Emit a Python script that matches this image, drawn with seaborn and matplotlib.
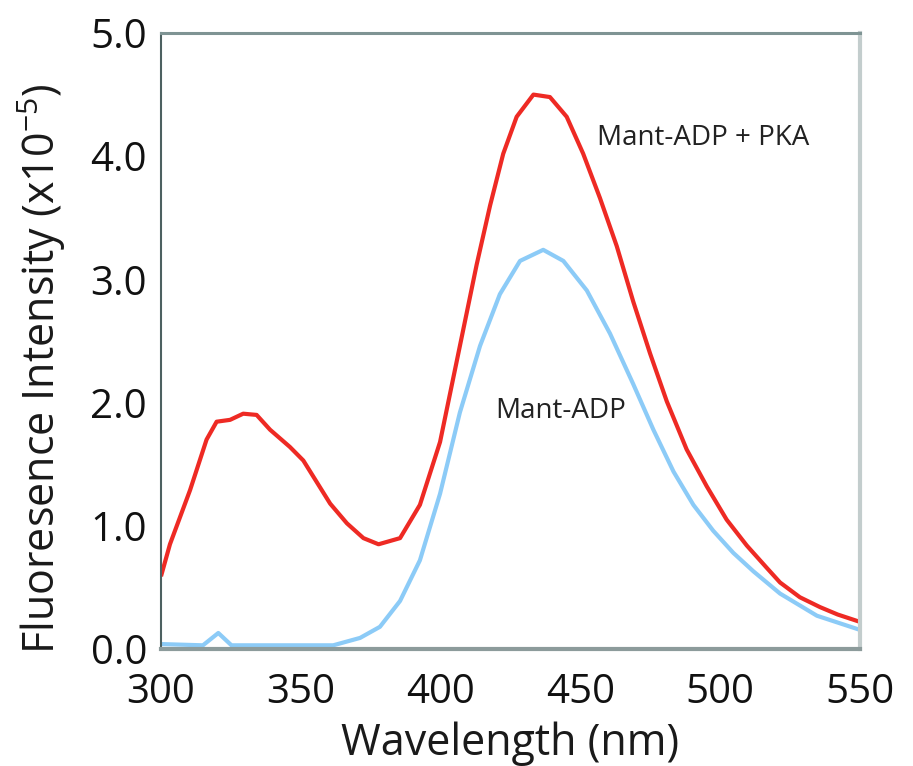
import matplotlib
matplotlib.use("Agg")
import matplotlib.pyplot as plt
import seaborn as sns
import pandas as pd

# Mant-ADP + PKA (red)
pka_nm = [300, 303.2, 310.4, 316.3, 319.9, 324.7, 329.4, 334.2, 339, 346.1, 350.9,
          360.5, 366.5, 372.4, 377.8, 385.5, 392.6, 399.8, 406.9, 412.9, 417.7,
          422.4, 427.2, 433.2, 439.1, 445.1, 451.0, 457.0, 463.0, 468.9, 474.9,
          480.9, 488.0, 495.2, 502.3, 509.5, 516.6, 521.4, 528.5, 535.7, 542, 550]
pka_val = [0.59, 0.85, 1.29, 1.70, 1.845, 1.86, 1.91, 1.90, 1.78, 1.64, 1.53,
           1.18, 1.02, 0.90, 0.85, 0.90, 1.17, 1.68, 2.46, 3.12, 3.60,
           4.02, 4.32, 4.50, 4.48, 4.32, 4.02, 3.66, 3.27, 2.82, 2.40,
           2.01, 1.62, 1.32, 1.05, 0.84, 0.66, 0.54, 0.42, 0.34, 0.28, 0.22]

# Mant-ADP (blue)
adp_nm = [300, 315, 320.5, 325.2, 340, 361.6, 371.2, 378.3, 385.5, 392.6, 399.8,
          406.9, 414.1, 421.2, 428.4, 436.7, 443.9, 452.3, 460.6, 468.9, 476.1,
          483.3, 490.4, 497.5, 504.7, 511.9, 521.4, 534.6, 550]
adp_val = [0.04, 0.03, 0.13, 0.03, 0.03, 0.03, 0.09, 0.18, 0.39, 0.72, 1.26,
           1.92, 2.46, 2.88, 3.15, 3.24, 3.15, 2.91, 2.56, 2.15, 1.78,
           1.44, 1.17, 0.96, 0.78, 0.63, 0.45, 0.27, 0.155]

series_names = ["Mant-ADP + PKA", "Mant-ADP"]
x_ticks = [300, 350, 400, 450, 500, 550]
y_ticks = [0.0, 1.0, 2.0, 3.0, 4.0, 5.0]

df = pd.concat([
    pd.DataFrame({"nm": pka_nm, "val": pka_val, "series": series_names[0]}),
    pd.DataFrame({"nm": adp_nm, "val": adp_val, "series": series_names[1]}),
])

sns.set_theme(style="white")
plt.rcParams['font.family'] = ['Open Sans', 'DejaVu Sans']

fig = plt.figure(figsize=(9.13, 7.66), dpi=100)
ax = fig.add_axes([161/913, 1 - 649/766, (860-161)/913, (649-33)/766])

sns.lineplot(data=df, x="nm", y="val", hue="series",
             palette={series_names[0]: "#ee2a24", series_names[1]: "#8ccbf7"},
             hue_order=[series_names[1], series_names[0]],
             linewidth=3, ax=ax, legend=False, sort=True)
for ln in ax.lines:
    ln.set_solid_joinstyle('round')
    ln.set_solid_capstyle('butt')

ax.set_xlim(300, 550)
ax.set_ylim(0, 5.0)
ax.set_xticks(x_ticks)
ax.set_xticklabels([str(t) for t in x_ticks])
ax.set_yticks(y_ticks)
ax.set_yticklabels([f"{t:.1f}" for t in y_ticks])
ax.tick_params(axis='both', which='both', direction='out', length=7, width=1,
               color='#6d7f7f', labelsize=29, labelcolor='#111111', pad=3)
ax.tick_params(axis='x', pad=10)

for side, col, lw in [("left", "#4d6161", 1.5), ("bottom", "#8c9b9b", 3),
                      ("top", "#7f9494", 2.2), ("right", "#c3cdcd", 3)]:
    ax.spines[side].set_visible(True)
    ax.spines[side].set_color(col)
    ax.spines[side].set_linewidth(lw)

ax.set_xlabel("Wavelength (nm)", fontsize=31, color='#1a1a1a', labelpad=6)
ax.set_ylabel(r"Fluoresence Intensity (x10$^{\mathregular{-5}}$)", fontsize=31,
              color='#1a1a1a')
ax.yaxis.set_label_coords(-0.133, 0.455)

ax.text(456, 4.15, series_names[0], fontsize=20, color='#222222', va='center', ha='left')
ax.text(419.5, 1.93, series_names[1], fontsize=20, color='#222222', va='center', ha='left')

fig.savefig("out.png", dpi=100)
